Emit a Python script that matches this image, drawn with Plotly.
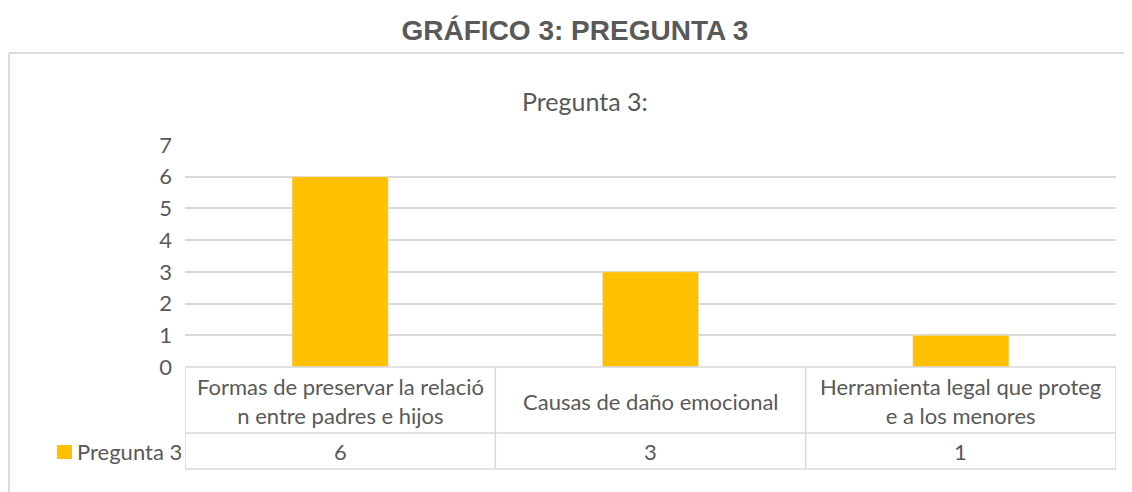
import plotly.graph_objects as go

# datos del grafico
categorias = ["Formas de preservar la relació<br>n entre padres e hijos",
              "Causas de daño emocional",
              "Herramienta legal que proteg<br>e a los menores"]
valores = [6, 3, 1]
serie = "Pregunta 3"
y_ticks = [0, 1, 2, 3, 4, 5, 6, 7]

AMARILLO = "#FFC000"
GRIS = "#595959"
LINEA = "#D9D9D9"
FUENTE = "Lato"

W, H = 1132, 492
OFF = 8  # margen del body de la pagina
ML, MR, MT, MB = 185 - OFF, 24, 145 - OFF, 133
plot_h = H - MT - MB
plot_w = W - ML - MR


def py(p):
    """fila de pixel (pantalla) -> y paper"""
    return (H - MB - (p - OFF)) / plot_h


def px(p):
    """columna de pixel (pantalla) -> x paper"""
    return (p - OFF - ML) / plot_w


x_idx = list(range(len(categorias)))
col_w = plot_w / len(categorias)
x_leg = -0.5 - (185 - 47) / col_w   # borde izquierdo de la columna leyenda

fig = go.Figure(go.Bar(x=x_idx, y=valores, name=serie,
                       marker_color=AMARILLO, width=0.31))

shapes = []
# marco del grafico
shapes.append(dict(type="line", xref="paper", yref="paper",
                   x0=px(9), x1=px(1150), y0=py(53), y1=py(53),
                   line=dict(color="#D0D0D0", width=1.5)))
shapes.append(dict(type="line", xref="paper", yref="paper",
                   x0=px(9), x1=px(9), y0=py(53), y1=py(510),
                   line=dict(color="#D0D0D0", width=1.5)))
# tabla de datos
for yy in [367, 433, 469]:
    shapes.append(dict(type="line", xref="x", yref="paper",
                       x0=-0.5 if yy == 367 else x_leg, x1=2.5,
                       y0=py(yy), y1=py(yy),
                       line=dict(color=LINEA, width=1.5)))
for i in range(len(categorias) + 1):
    shapes.append(dict(type="line", xref="x", yref="paper",
                       x0=i - 0.5, x1=i - 0.5, y0=py(367), y1=py(469),
                       line=dict(color=LINEA, width=1.5)))
shapes.append(dict(type="line", xref="x", yref="paper",
                   x0=x_leg, x1=x_leg, y0=py(433), y1=py(469),
                   line=dict(color=LINEA, width=1.5)))
# cuadro de leyenda
shapes.append(dict(type="rect", xref="paper", yref="paper",
                   x0=px(57), x1=px(72), y0=py(459), y1=py(445),
                   fillcolor=AMARILLO, line=dict(width=0)))

annotations = []
for i, (cat, val) in enumerate(zip(categorias, valores)):
    annotations.append(dict(x=i, y=py(401), xref="x", yref="paper",
                            text=cat, showarrow=False, yanchor="middle",
                            font=dict(family=FUENTE, size=22, color=GRIS)))
    annotations.append(dict(x=i, y=py(452), xref="x", yref="paper",
                            text=str(val), showarrow=False, yanchor="middle",
                            font=dict(family=FUENTE, size=22, color=GRIS)))
annotations.append(dict(x=px(75), y=py(452), xref="paper", yref="paper",
                        text=serie, showarrow=False, xanchor="left",
                        yanchor="middle",
                        font=dict(family=FUENTE, size=22, color=GRIS)))
annotations.append(dict(x=px(585), y=py(101), xref="paper", yref="paper",
                        text="Pregunta 3:", showarrow=False,
                        yanchor="middle",
                        font=dict(family=FUENTE, size=25, color=GRIS)))

fig.update_layout(
    width=W, height=H,
    margin=dict(l=ML, r=MR, t=MT, b=MB),
    paper_bgcolor="white", plot_bgcolor="white",
    showlegend=False,
    title=dict(text="<b>GRÁFICO 3: PREGUNTA 3</b>",
               x=(575 - OFF) / W, y=1 - (30 - OFF) / H,
               xanchor="center", yanchor="middle",
               font=dict(family="Liberation Sans", size=28, color=GRIS)),
    xaxis=dict(range=[-0.5, 2.5], showticklabels=False, showgrid=False,
               zeroline=False, showline=False, fixedrange=True),
    yaxis=dict(range=[0, 7], tickvals=y_ticks, showgrid=True,
               gridcolor=LINEA, gridwidth=1.5, zeroline=False,
               showline=False, ticklabelstandoff=12,
               tickfont=dict(family=FUENTE, size=22, color=GRIS)),
    shapes=shapes,
    annotations=annotations,
)

fig.write_html("out.html")
